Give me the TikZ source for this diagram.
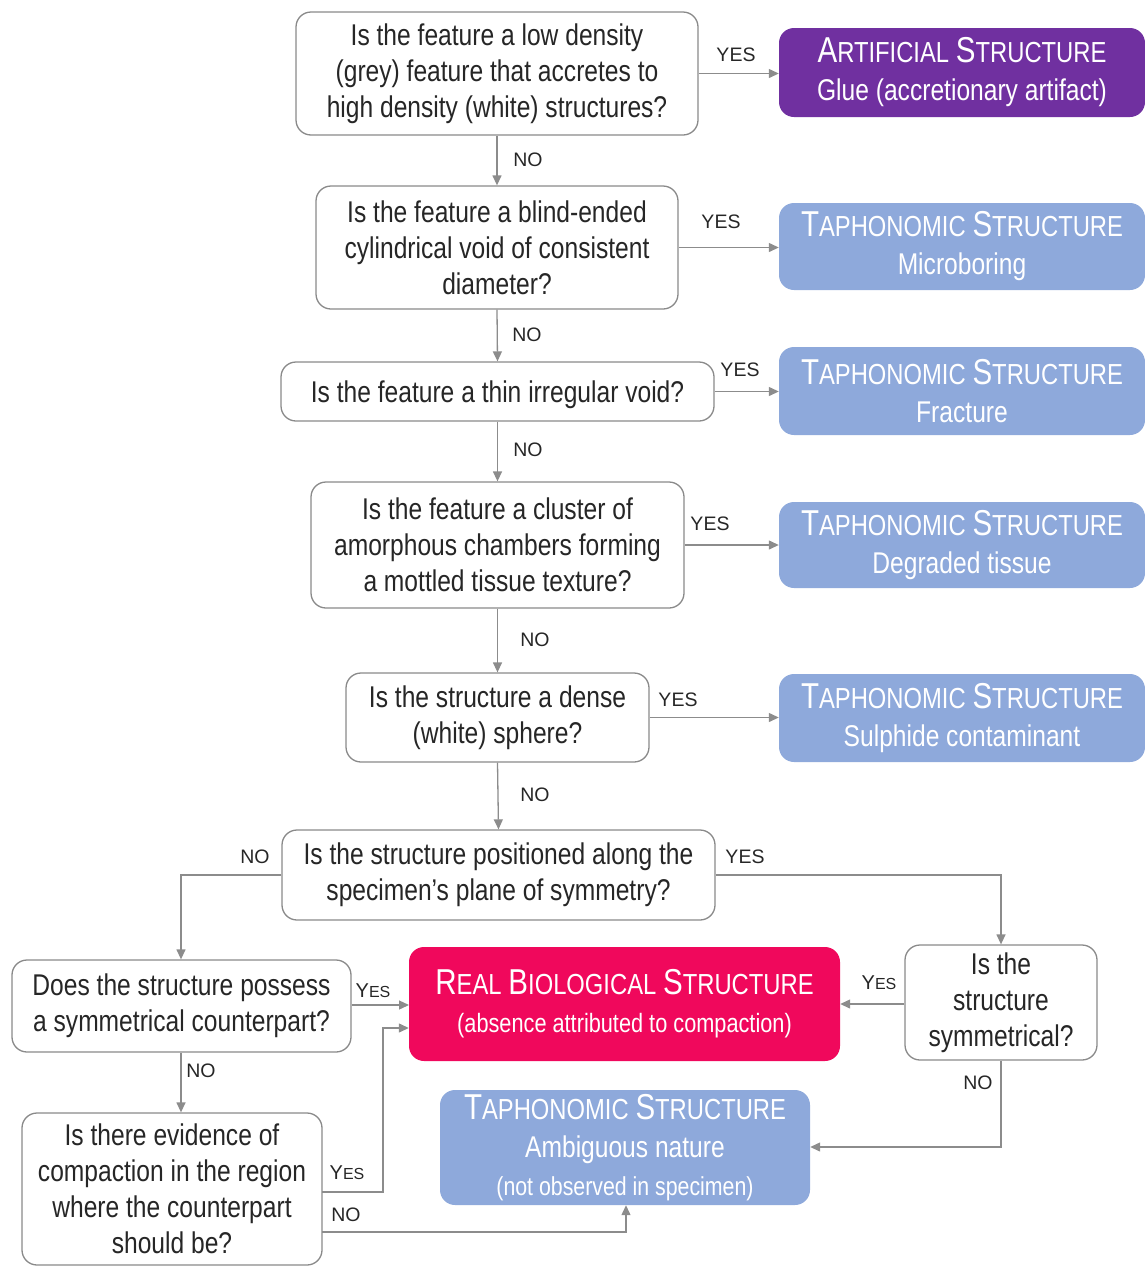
\documentclass[tikz,border=0pt]{standalone}
\usepackage{fontspec}
\setmainfont[FakeStretch=0.82]{Liberation Sans}
\newfontfamily\lblfont{Liberation Sans}
\usetikzlibrary{arrows.meta}
\definecolor{qtext}{HTML}{262626}
\definecolor{qline}{HTML}{8A8A8A}
\definecolor{aline}{HTML}{8C8C8C}
\definecolor{artpurple}{HTML}{7030A0}
\definecolor{taphblue}{HTML}{8EA9DB}
\definecolor{realpink}{HTML}{F0085C}
\newcommand\qsize{\fontsize{30}{36}\selectfont}
\newcommand\tsize{\fontsize{30}{38}\selectfont}
\newcommand\mysc[2]{{\fontsize{36}{38}\selectfont #1}{\fontsize{29}{38}\selectfont #2}}
\newcommand\lsc[2]{{\fontsize{20}{22}\selectfont #1}{\fontsize{16}{22}\selectfont #2}}
\begin{document}
\begin{tikzpicture}[x=1pt,y=-1pt,
  question/.style={draw=qline, line width=1.3pt, rounded corners=15pt, fill=white,
     text=qtext, align=center, inner sep=0pt, font=\qsize,
     execute at begin node={\rule{0pt}{28pt}}},
  outcome/.style={rounded corners=15pt, text=white, align=center, inner sep=0pt, font=\tsize,
     execute at begin node={\rule{0pt}{36pt}}},
  conn/.style={draw=aline, line width=1.3pt, -{Triangle[length=10pt,width=9pt]}},
  lbl/.style={text=qtext, inner sep=0pt, font=\lblfont\fontsize{19.5}{22}\selectfont}]
\useasboundingbox (0,0) rectangle (1145,1267);

% questions
\node[question, minimum width=402pt, minimum height=123pt] (q1) at (497,73.5)
  {Is the feature a low density\\(grey) feature that accretes to\\high density (white) structures?};
\node[question, minimum width=362pt, minimum height=123pt] (q2) at (497,247.5)
  {Is the feature a blind-ended\\cylindrical void of consistent\\diameter?};
\node[question, minimum width=433pt, minimum height=59pt] (q3) at (497.5,391.5)
  {Is the feature a thin irregular void?};
\node[question, minimum width=373pt, minimum height=126pt] (q4) at (497.5,545)
  {Is the feature a cluster of\\amorphous chambers forming\\a mottled tissue texture?};
\node[question, minimum width=303pt, minimum height=89pt] (q5) at (497.5,717.5)
  {Is the structure a dense\\(white) sphere?};
\node[question, minimum width=433pt, minimum height=90pt] (q6) at (498.5,875)
  {Is the structure positioned along the\\specimen’s plane of symmetry?};
\node[question, minimum width=339pt, minimum height=92pt] (q7) at (181.5,1006)
  {Does the structure possess\\a symmetrical counterpart?};
\node[question, minimum width=192pt, minimum height=115pt] (q8) at (1001,1002.5)
  {Is the\\structure\\symmetrical?};
\node[question, minimum width=300pt, minimum height=152pt] (q9) at (172,1189)
  {Is there evidence of\\compaction in the region\\where the counterpart\\should be?};

% outcomes
\node[outcome, fill=artpurple, minimum width=366pt, minimum height=89pt] (art) at (962,72.5)
  {\mysc{A}{RTIFICIAL} \mysc{S}{TRUCTURE}\\Glue (accretionary artifact)};
\node[outcome, fill=taphblue, minimum width=366pt, minimum height=87pt] (t1) at (962,246.5)
  {\mysc{T}{APHONOMIC} \mysc{S}{TRUCTURE}\\Microboring};
\node[outcome, fill=taphblue, minimum width=366pt, minimum height=88pt] (t2) at (962,391)
  {\mysc{T}{APHONOMIC} \mysc{S}{TRUCTURE}\\Fracture};
\node[outcome, fill=taphblue, minimum width=366pt, minimum height=86pt] (t3) at (962,545)
  {\mysc{T}{APHONOMIC} \mysc{S}{TRUCTURE}\\Degraded tissue};
\node[outcome, fill=taphblue, minimum width=366pt, minimum height=88pt] (t4) at (962,718)
  {\mysc{T}{APHONOMIC} \mysc{S}{TRUCTURE}\\Sulphide contaminant};
\node[outcome, fill=realpink, minimum width=431pt, minimum height=114pt] (real) at (624.5,1004)
  {\mysc{R}{EAL} \mysc{B}{IOLOGICAL} \mysc{S}{TRUCTURE}\\{\fontsize{26.5}{37}\selectfont (absence attributed to compaction)}};
\node[outcome, fill=taphblue, minimum width=370pt, minimum height=115pt] (t5) at (625,1147.5)
  {\mysc{T}{APHONOMIC} \mysc{S}{TRUCTURE}\\Ambiguous nature\\{\fontsize{26}{34}\selectfont (not observed in specimen)}};

% helper coordinates
\coordinate (c6l) at (181,875);
\coordinate (c6r) at (1001,875);
\coordinate (c8d) at (1001,1147);
\coordinate (c9a) at (322,1192);
\coordinate (c9b) at (383,1192);
\coordinate (c9c) at (383,1028);
\coordinate (c9d) at (322,1232);
\coordinate (c9e) at (626,1232);
\coordinate (c7r) at (409,1005);

% connectors
\draw[conn] (q1.east) -- (q1.east -| art.west);
\draw[conn] (q1.south) -- (q2.north);
\draw[conn] (q2.east) -- (q2.east -| t1.west);
\draw[conn] (q2.south) -- (q3.north);
\draw[conn] (q3.east) -- (q3.east -| t2.west);
\draw[conn] (q3.south) -- (q4.north);
\draw[conn] (q4.east) -- (q4.east -| t3.west);
\draw[conn] (q4.south) -- (q5.north);
\draw[conn] (q5.east) -- (q5.east -| t4.west);
\draw[conn] (q5.south) -- (q6.north);
\draw[conn] (q6.west) -- (c6l) -- (q7.north -| c6l);
\draw[conn] (q6.east) -- (c6r) -- (q8.north);
\draw[conn] (q7.east |- c7r) -- (c7r);
\draw[conn] (q8.west |- real.east) -- (real.east);
\draw[conn] (q8.south) -- (c8d) -- (t5.east |- c8d);
\draw[conn] (q7.south -| c6l) -- (q9.north -| c6l);
\draw[conn] (c9a) -- (c9b) -- (c9c) -- (c9c -| real.west);
\draw[conn] (c9d) -- (c9e) -- (t5.south -| c9e);

% labels
\node[lbl] (l1) at (736,55) {YES};
\node[lbl] (l2) at (528,160) {NO};
\node[lbl] (l3) at (721,222) {YES};
\node[lbl] (l4) at (527,335) {NO};
\node[lbl] (l5) at (740,370) {YES};
\node[lbl] (l6) at (528,450) {NO};
\node[lbl] (l7) at (710,524) {YES};
\node[lbl] (l8) at (535,640) {NO};
\node[lbl] (l9) at (678,700) {YES};
\node[lbl] (l10) at (535,795) {NO};
\node[lbl] (l11) at (255,857) {NO};
\node[lbl] (l12) at (745,857) {YES};
\node[lbl] (l13) at (373,991) {\lsc{Y}{ES}};
\node[lbl] (l14) at (879,983) {\lsc{Y}{ES}};
\node[lbl] (l15) at (978,1083) {NO};
\node[lbl] (l16) at (201,1071) {NO};
\node[lbl] (l17) at (347,1173) {\lsc{Y}{ES}};
\node[lbl] (l18) at (346,1215) {NO};
\end{tikzpicture}
\end{document}
